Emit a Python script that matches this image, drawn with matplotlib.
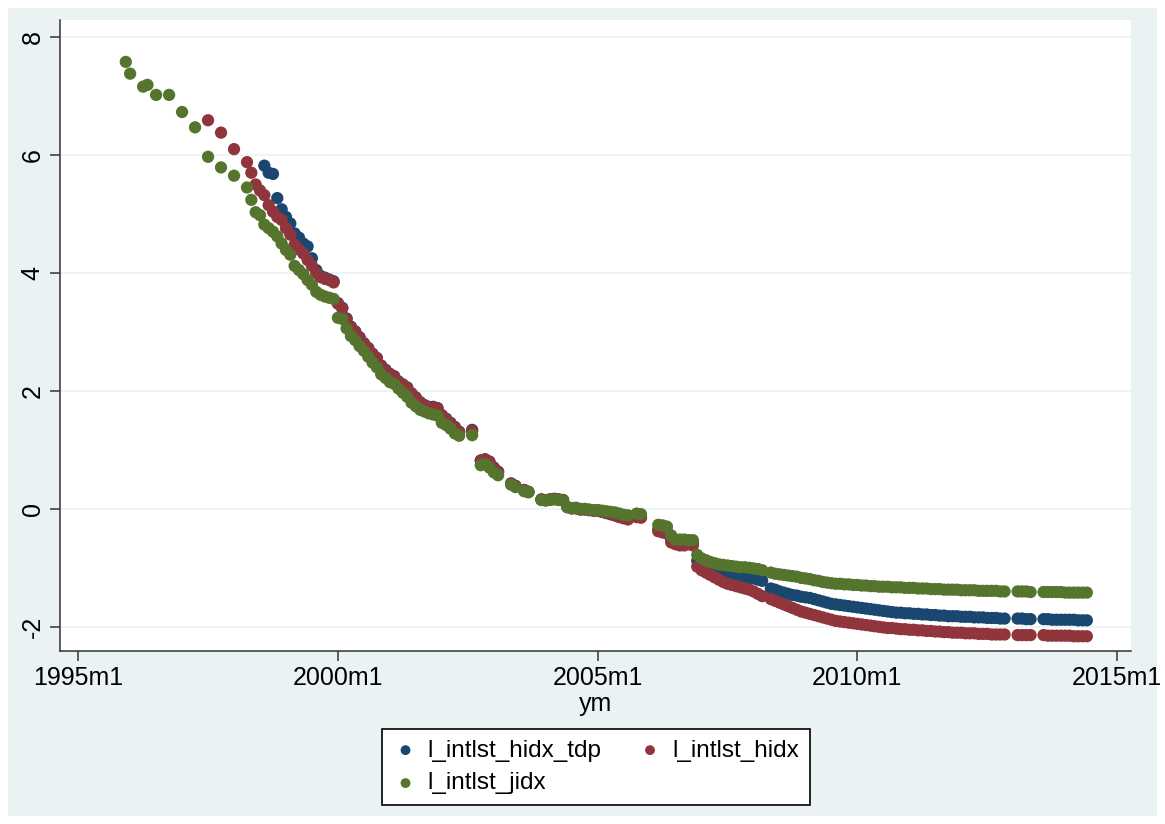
import numpy as np
import matplotlib
matplotlib.use("Agg")
import matplotlib.pyplot as plt
from matplotlib.patches import Rectangle

plt.rcParams["font.family"] = ["Liberation Sans", "DejaVu Sans"]

nan = np.nan

# x is months counted from 1995m1 (= 0)
TDP_START = 43
hidx_tdp = [
    5.82, 5.70, 5.68, 5.27, 5.08, 4.95, 4.84, 4.67,
    4.60, 4.50, 4.45, 4.25, 4.05, 3.95, 3.92, 3.89, 3.86, 3.49,
    3.41, 3.23, 3.09, 3.01, 2.91, 2.81, 2.73, 2.63, 2.56, 2.43,
    2.36, 2.29, 2.25, 2.16, 2.11, 2.06, 1.96, 1.89, 1.81, 1.76,
    1.73, 1.73, 1.71, 1.59, 1.53, 1.46, 1.39, 1.31, nan, nan,
    1.34, nan, 0.82, 0.84, 0.80, 0.70, 0.63, nan, nan, 0.43,
    0.39, nan, 0.32, 0.29, nan, nan, 0.16, 0.15, 0.16, 0.17,
    0.16, 0.15, 0.03, 0.01, 0.01, -0.01, -0.01, -0.02, -0.03, -0.03,
    -0.05, -0.07, -0.09, -0.11, -0.13, -0.15, -0.16, nan, -0.13, -0.14,
    nan, nan, nan, -0.35, -0.37, -0.38, -0.53, -0.56, -0.58, -0.58,
    -0.57, -0.58, -0.88, -0.95, -1.00, -1.03, -1.06, -1.08, -1.09, -1.10,
    -1.12, -1.13, -1.14, -1.15, -1.17, -1.18, -1.20, -1.22, nan, -1.35,
    -1.37, -1.40, -1.42, -1.44, -1.46, -1.47, -1.49, -1.50, -1.51, -1.53,
    -1.55, -1.57, -1.59, -1.61, -1.62, -1.63, -1.64, -1.65, -1.66, -1.67,
    -1.68, -1.69, -1.70, -1.71, -1.72, -1.73, -1.74, -1.75, -1.76, -1.76,
    -1.77, -1.77, -1.78, -1.78, -1.79, -1.79, -1.80, -1.80, -1.81, -1.81,
    -1.82, -1.82, -1.82, -1.83, -1.83, -1.83, -1.84, -1.84, -1.84, -1.85,
    -1.85, -1.85, -1.86, -1.86, nan, nan, -1.86, -1.86, -1.87, -1.87,
    nan, nan, -1.87, -1.87, -1.88, -1.88, -1.88, -1.88, -1.88, -1.88,
    -1.89, -1.89, -1.89,
]

HIDX_START = 30
hidx = [
    6.59,
    nan, nan, 6.38, nan, nan, 6.10, nan, nan, 5.88, 5.70,
    5.50, 5.40, 5.32, 5.15, 5.04, 4.95, 4.90, 4.76, 4.65, 4.48,
    4.40, 4.33, 4.22, 4.12, 4.00, 3.93, 3.90, 3.88, 3.84, 3.48,
    3.40, 3.22, 3.08, 3.00, 2.90, 2.80, 2.72, 2.62, 2.55, 2.42,
    2.35, 2.28, 2.24, 2.15, 2.10, 2.05, 1.95, 1.88, 1.80, 1.75,
    1.72, 1.72, 1.70, 1.58, 1.52, 1.45, 1.38, 1.30, nan, nan,
    1.32, nan, 0.82, 0.84, 0.80, 0.70, 0.63, nan, nan, 0.43,
    0.39, nan, 0.32, 0.29, nan, nan, 0.16, 0.15, 0.16, 0.17,
    0.16, 0.15, 0.03, 0.01, 0.01, -0.01, -0.01, -0.02, -0.03, -0.03,
    -0.05, -0.07, -0.09, -0.11, -0.14, -0.16, -0.18, nan, -0.14, -0.15,
    nan, nan, nan, -0.38, -0.40, -0.42, -0.57, -0.60, -0.62, -0.62,
    -0.60, -0.62, -0.98, -1.04, -1.08, -1.12, -1.16, -1.20, -1.24, -1.27,
    -1.29, -1.31, -1.33, -1.35, -1.37, -1.40, -1.44, -1.48, nan, -1.53,
    -1.56, -1.59, -1.62, -1.65, -1.68, -1.71, -1.74, -1.76, -1.78, -1.80,
    -1.82, -1.84, -1.86, -1.88, -1.90, -1.91, -1.92, -1.93, -1.94, -1.95,
    -1.96, -1.97, -1.98, -1.99, -2.00, -2.01, -2.02, -2.02, -2.03, -2.04,
    -2.04, -2.05, -2.05, -2.06, -2.06, -2.07, -2.07, -2.08, -2.08, -2.09,
    -2.09, -2.10, -2.10, -2.10, -2.11, -2.11, -2.11, -2.12, -2.12, -2.12,
    -2.13, -2.13, -2.13, -2.13, nan, nan, -2.14, -2.14, -2.14, -2.14,
    nan, nan, -2.14, -2.15, -2.15, -2.15, -2.15, -2.15, -2.15, -2.16,
    -2.16, -2.16, -2.16,
]

JIDX_START = 11
jidx = [
    7.58, 7.38, nan, nan, 7.16, 7.19, nan, 7.02, nan, nan,
    7.02, nan, nan, 6.73, nan, nan, 6.47, nan, nan, 5.97,
    nan, nan, 5.79, nan, nan, 5.65, nan, nan, 5.45, 5.24,
    5.03, 4.98, 4.82, 4.76, 4.70, 4.62, 4.50, 4.39, 4.31, 4.12,
    4.05, 3.98, 3.88, 3.80, 3.68, 3.63, 3.60, 3.58, 3.56, 3.24,
    3.22, 3.06, 2.93, 2.86, 2.76, 2.68, 2.58, 2.48, 2.40, 2.28,
    2.22, 2.15, 2.12, 2.04, 1.97, 1.90, 1.80, 1.74, 1.68, 1.65,
    1.62, 1.60, 1.58, 1.46, 1.42, 1.36, 1.28, 1.24, nan, nan,
    1.25, nan, 0.74, 0.76, 0.70, 0.62, 0.57, nan, nan, 0.41,
    0.37, nan, 0.30, 0.28, nan, nan, 0.15, 0.14, 0.15, 0.16,
    0.15, 0.14, 0.03, 0.01, 0.02, 0.00, 0.00, -0.01, -0.02, -0.02,
    -0.03, -0.04, -0.05, -0.06, -0.08, -0.10, -0.11, nan, -0.08, -0.09,
    nan, nan, nan, -0.27, -0.28, -0.30, -0.45, -0.52, -0.52, -0.52,
    -0.53, -0.53, -0.78, -0.84, -0.87, -0.90, -0.92, -0.94, -0.95, -0.96,
    -0.97, -0.98, -0.99, -0.99, -1.00, -1.01, -1.02, -1.04, nan, -1.08,
    -1.10, -1.11, -1.12, -1.13, -1.14, -1.15, -1.17, -1.18, -1.19, -1.21,
    -1.22, -1.24, -1.25, -1.26, -1.27, -1.27, -1.28, -1.28, -1.29, -1.29,
    -1.30, -1.30, -1.31, -1.31, -1.32, -1.32, -1.32, -1.33, -1.33, -1.33,
    -1.34, -1.34, -1.34, -1.35, -1.35, -1.35, -1.36, -1.36, -1.36, -1.37,
    -1.37, -1.37, -1.37, -1.38, -1.38, -1.38, -1.38, -1.39, -1.39, -1.39,
    -1.39, -1.39, -1.40, -1.40, nan, nan, -1.40, -1.40, -1.40, -1.41,
    nan, nan, -1.41, -1.41, -1.41, -1.41, -1.41, -1.42, -1.42, -1.42,
    -1.42, -1.42, -1.42,
]

SERIES = [
    ("l_intlst_hidx_tdp", TDP_START, hidx_tdp, "#1a476f"),
    ("l_intlst_hidx", HIDX_START, hidx, "#90353b"),
    ("l_intlst_jidx", JIDX_START, jidx, "#55752f"),
]

XTICKS = [0, 60, 120, 180, 240]
XTICK_LABELS = ["1995m1", "2000m1", "2005m1", "2010m1", "2015m1"]
YTICKS = [-2, 0, 2, 4, 6, 8]

W, H = 1165, 824
fig = plt.figure(figsize=(W / 100, H / 100), dpi=100, facecolor="white")
fig.patches.append(Rectangle((8 / W, 8 / H), (1157 - 8) / W, (816 - 8) / H,
                             transform=fig.transFigure, facecolor="#eaf2f3",
                             edgecolor="none", zorder=-10))

ax = fig.add_axes([60 / W, (H - 651) / H, (1131 - 60) / W, (651 - 20) / H])
ax.set_facecolor("white")

handles = {}
for i, (name, start, vals, col) in enumerate(SERIES):
    y = np.array(vals, dtype=float)
    x = start + np.arange(len(y))
    handles[name] = ax.scatter(x, y, s=78, color=col, edgecolors="none",
                               label=name, zorder=3 + i)

ax.set_xlim(-4.2, 243.2)
ax.set_ylim(-2.41, 8.29)
ax.set_xticks(XTICKS)
ax.set_xticklabels(XTICK_LABELS)
ax.set_yticks(YTICKS)
ax.set_yticklabels([str(v) for v in YTICKS], rotation=90, va="center")
ax.tick_params(direction="out", length=7, width=1.1, color="#333333",
               labelsize=18, pad=4)
ax.yaxis.grid(True, color="#eaf2f3", lw=1.2)
ax.set_axisbelow(True)
for s in ("top", "right"):
    ax.spines[s].set_visible(False)
for s in ("left", "bottom"):
    ax.spines[s].set_color("#333333")
    ax.spines[s].set_linewidth(1.1)
ax.set_xlabel("ym", fontsize=18, labelpad=1)

order = ["l_intlst_hidx_tdp", "l_intlst_jidx", "l_intlst_hidx"]
leg = fig.legend([handles[k] for k in order], order, loc="center",
                 bbox_to_anchor=(596 / W, (H - 767) / H), ncol=2,
                 fontsize=17.5, markerscale=0.8, frameon=True, fancybox=False,
                 facecolor="white", framealpha=1, edgecolor="black",
                 handlelength=1.0, columnspacing=1.5, handletextpad=0.4,
                 borderpad=0.45, labelspacing=0.45)
leg.get_frame().set_linewidth(1.2)

fig.savefig("out.png", dpi=100, facecolor=fig.get_facecolor())
